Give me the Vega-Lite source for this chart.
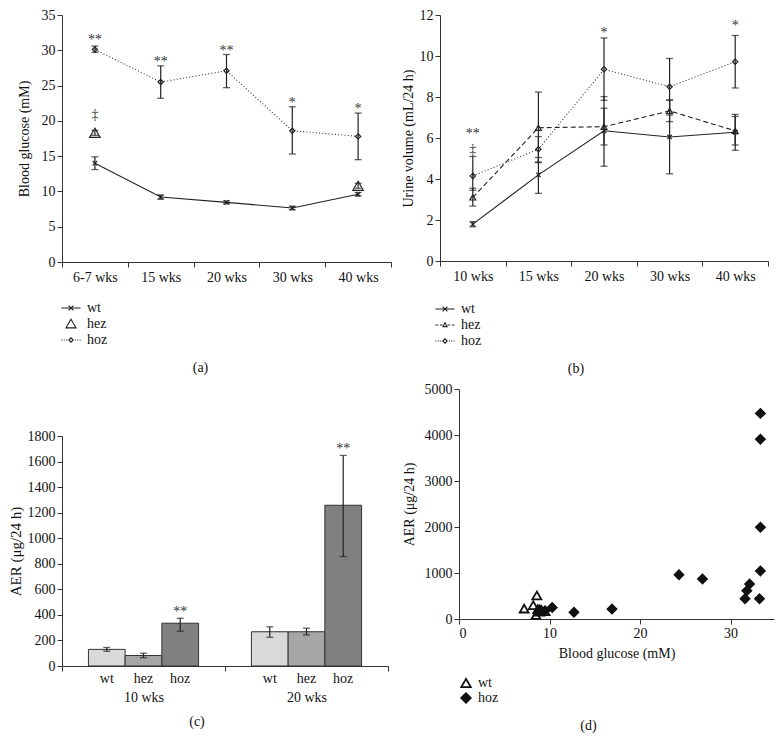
{
  "$schema": "https://vega.github.io/schema/vega-lite/v6.json",
  "padding": {"left": 8, "top": 8, "right": 0, "bottom": 0},
  "background": "white",
  "config": {
    "font": "Liberation Serif",
    "view": {"stroke": null},
    "axis": {"grid": false, "domainColor": "#333", "tickColor": "#333", "labelColor": "#111", "titleColor": "#111", "labelFontSize": 14, "titleFontSize": 14, "titleFontWeight": "normal", "tickSize": 5, "labelFont": "Liberation Serif", "titleFont": "Liberation Serif", "domainWidth": 1, "tickWidth": 1},
    "legend": {"labelFontSize": 14, "labelFont": "Liberation Serif", "labelColor": "#111"},
    "title": {"fontSize": 14, "fontWeight": "normal", "font": "Liberation Serif", "color": "#111"},
    "text": {"font": "Liberation Serif"}
  },
  "resolve": {"scale": {"shape": "independent", "fill": "independent", "stroke": "independent"}, "legend": {"shape": "independent", "fill": "independent", "stroke": "independent"}},
  "datasets": {
    "a": [
      {"wk": "6-7 wks", "geno": "wt", "v": 14.0, "lo": 13.1, "hi": 14.9},
      {"wk": "15 wks", "geno": "wt", "v": 9.2, "lo": 8.9, "hi": 9.5},
      {"wk": "20 wks", "geno": "wt", "v": 8.45, "lo": 8.25, "hi": 8.65},
      {"wk": "30 wks", "geno": "wt", "v": 7.65, "lo": 7.4, "hi": 7.9},
      {"wk": "40 wks", "geno": "wt", "v": 9.6, "lo": 9.35, "hi": 9.85},
      {"wk": "6-7 wks", "geno": "hez", "v": 18.3, "lo": 17.95, "hi": 18.65},
      {"wk": "40 wks", "geno": "hez", "v": 10.8, "lo": 10.45, "hi": 11.15},
      {"wk": "6-7 wks", "geno": "hoz", "v": 30.1, "lo": 29.7, "hi": 30.6},
      {"wk": "15 wks", "geno": "hoz", "v": 25.5, "lo": 23.2, "hi": 27.8},
      {"wk": "20 wks", "geno": "hoz", "v": 27.1, "lo": 24.7, "hi": 29.4},
      {"wk": "30 wks", "geno": "hoz", "v": 18.6, "lo": 15.3, "hi": 22.0},
      {"wk": "40 wks", "geno": "hoz", "v": 17.8, "lo": 14.5, "hi": 21.1}
    ],
    "aAnn": [
      {"wk": "6-7 wks", "y": 31.4, "s": "**"},
      {"wk": "15 wks", "y": 28.4, "s": "**"},
      {"wk": "20 wks", "y": 29.9, "s": "**"},
      {"wk": "30 wks", "y": 22.5, "s": "*"},
      {"wk": "40 wks", "y": 21.7, "s": "*"},
      {"wk": "6-7 wks", "y": 20.9, "s": "‡"}
    ],
    "b": [
      {"wk": "10 wks", "geno": "wt", "v": 1.8, "lo": 1.67, "hi": 1.92},
      {"wk": "15 wks", "geno": "wt", "v": 4.2, "lo": 3.3, "hi": 5.05},
      {"wk": "20 wks", "geno": "wt", "v": 6.35, "lo": 4.62, "hi": 8.02},
      {"wk": "30 wks", "geno": "wt", "v": 6.05, "lo": 4.25, "hi": 7.85},
      {"wk": "40 wks", "geno": "wt", "v": 6.28, "lo": 5.4, "hi": 7.15},
      {"wk": "10 wks", "geno": "hez", "v": 3.1, "lo": 2.68, "hi": 3.55},
      {"wk": "15 wks", "geno": "hez", "v": 6.5, "lo": 4.8, "hi": 8.24},
      {"wk": "20 wks", "geno": "hez", "v": 6.55, "lo": 5.66, "hi": 7.45},
      {"wk": "30 wks", "geno": "hez", "v": 7.32, "lo": 6.8, "hi": 7.85},
      {"wk": "40 wks", "geno": "hez", "v": 6.35, "lo": 5.66, "hi": 7.05},
      {"wk": "10 wks", "geno": "hoz", "v": 4.15, "lo": 3.45, "hi": 5.1},
      {"wk": "15 wks", "geno": "hoz", "v": 5.45, "lo": 4.83, "hi": 6.07},
      {"wk": "20 wks", "geno": "hoz", "v": 9.35, "lo": 7.84, "hi": 10.88},
      {"wk": "30 wks", "geno": "hoz", "v": 8.5, "lo": 7.12, "hi": 9.88},
      {"wk": "40 wks", "geno": "hoz", "v": 9.72, "lo": 8.44, "hi": 11.0}
    ],
    "bAnn": [
      {"wk": "10 wks", "y": 6.2, "s": "**"},
      {"wk": "10 wks", "y": 5.4, "s": "‡"},
      {"wk": "20 wks", "y": 11.1, "s": "*"},
      {"wk": "40 wks", "y": 11.45, "s": "*"}
    ],
    "c": [
      {"grp": "10 wks", "geno": "wt", "v": 130, "lo": 115, "hi": 145},
      {"grp": "10 wks", "geno": "hez", "v": 82, "lo": 65, "hi": 100},
      {"grp": "10 wks", "geno": "hoz", "v": 335, "lo": 272, "hi": 373},
      {"grp": "20 wks", "geno": "wt", "v": 268, "lo": 225, "hi": 307},
      {"grp": "20 wks", "geno": "hez", "v": 268, "lo": 243, "hi": 296},
      {"grp": "20 wks", "geno": "hoz", "v": 1258, "lo": 857, "hi": 1648}
    ],
    "cAnn": [
      {"grp": "10 wks", "geno": "hoz", "y": 425, "s": "**"},
      {"grp": "20 wks", "geno": "hoz", "y": 1695, "s": "**"}
    ],
    "d": [
      {"g": "wt", "bg": 7.2, "aer": 225},
      {"g": "wt", "bg": 8.2, "aer": 300},
      {"g": "wt", "bg": 8.6, "aer": 510},
      {"g": "wt", "bg": 8.5, "aer": 85},
      {"g": "wt", "bg": 8.7, "aer": 215},
      {"g": "wt", "bg": 9.1, "aer": 195},
      {"g": "wt", "bg": 9.5, "aer": 170},
      {"g": "wt", "bg": 8.9, "aer": 160},
      {"g": "hoz", "bg": 8.9, "aer": 200},
      {"g": "hoz", "bg": 9.5, "aer": 180},
      {"g": "hoz", "bg": 10.3, "aer": 250},
      {"g": "hoz", "bg": 12.7, "aer": 145},
      {"g": "hoz", "bg": 16.9, "aer": 215},
      {"g": "hoz", "bg": 24.3, "aer": 960},
      {"g": "hoz", "bg": 26.9, "aer": 870},
      {"g": "hoz", "bg": 31.6, "aer": 440},
      {"g": "hoz", "bg": 31.8, "aer": 615},
      {"g": "hoz", "bg": 32.1, "aer": 760},
      {"g": "hoz", "bg": 33.2, "aer": 440},
      {"g": "hoz", "bg": 33.3, "aer": 1045},
      {"g": "hoz", "bg": 33.3, "aer": 1995},
      {"g": "hoz", "bg": 33.3, "aer": 3910},
      {"g": "hoz", "bg": 33.3, "aer": 4470}
    ]
  },
  "hconcat": [
    {
      "spacing": 54,
      "resolve": {"scale": {"shape": "independent", "fill": "independent", "stroke": "independent"}, "legend": {"shape": "independent", "fill": "independent", "stroke": "independent"}},
      "vconcat": [
        {
          "width": 329, "height": 247,
          "title": {"text": "(a)", "orient": "bottom", "anchor": "middle", "dx": -26, "offset": 14},
          "resolve": {"scale": {"shape": "independent"}, "legend": {"shape": "independent"}},
          "encoding": {
            "x": {"field": "wk", "type": "ordinal", "sort": ["6-7 wks", "15 wks", "20 wks", "30 wks", "40 wks"], "scale": {"type": "band", "paddingInner": 0, "paddingOuter": 0}, "axis": {"title": null, "labelAngle": 0, "tickBand": "extent", "labelPadding": 3}, "bandPosition": 0.5},
            "y": {"field": "v", "type": "quantitative", "scale": {"domain": [0, 35], "nice": false}, "axis": {"title": "Blood glucose (mM)", "values": [0, 5, 10, 15, 20, 25, 30, 35], "titlePadding": 10}}
          },
          "layer": [
            {
              "data": {"name": "a"},
              "transform": [{"filter": "datum.geno === 'wt'"}],
              "mark": {"type": "line", "strokeWidth": 1.1, "color": "#222"},
              "encoding": {"order": {"value": null}}
            },
            {
              "data": {"name": "a"},
              "transform": [{"filter": "datum.geno === 'hoz'"}],
              "mark": {"type": "line", "strokeWidth": 1.1, "color": "#333", "strokeDash": [1, 2.2]},
              "encoding": {"order": {"value": null}}
            },
            {
              "data": {"name": "a"},
              "mark": {"type": "rule", "color": "#222", "strokeWidth": 1.2},
              "encoding": {"y": {"field": "lo", "type": "quantitative", "axis": {"title": "Blood glucose (mM)", "values": [0, 5, 10, 15, 20, 25, 30, 35], "titlePadding": 10}}, "y2": {"field": "hi"}}
            },
            {
              "data": {"name": "a"},
              "mark": {"type": "tick", "orient": "horizontal", "size": 7, "thickness": 1.3, "color": "#222"},
              "encoding": {"y": {"field": "lo", "type": "quantitative", "axis": {"title": "Blood glucose (mM)", "values": [0, 5, 10, 15, 20, 25, 30, 35], "titlePadding": 10}}}
            },
            {
              "data": {"name": "a"},
              "mark": {"type": "tick", "orient": "horizontal", "size": 7, "thickness": 1.3, "color": "#222"},
              "encoding": {"y": {"field": "hi", "type": "quantitative", "axis": {"title": "Blood glucose (mM)", "values": [0, 5, 10, 15, 20, 25, 30, 35], "titlePadding": 10}}}
            },
            {
              "data": {"name": "a"},
              "mark": {"type": "point", "filled": false, "strokeWidth": 1.2, "color": "#222", "opacity": 1, "size": 110},
              "encoding": {
                "shape": {"field": "geno", "type": "nominal", "scale": {"domain": ["wt", "hez", "hoz"], "range": ["M-0.42,-0.42L0.42,0.42M-0.42,0.42L0.42,-0.42", "triangle-up", "M0,-0.5L0.5,0L0,0.5L-0.5,0Z"]}, "legend": null}
              }
            },
            {
              "data": {"name": "a"},
              "transform": [{"filter": "false"}],
              "mark": {"type": "point", "filled": false, "strokeWidth": 1.1, "color": "#222", "opacity": 1},
              "encoding": {
                "shape": {"field": "geno", "type": "nominal", "scale": {"domain": ["wt", "hez", "hoz"], "range": ["M-1.2,0H1.2M-0.3,-0.3L0.3,0.3M-0.3,0.3L0.3,-0.3", "M0,-0.6L0.62,0.48L-0.62,0.48Z", "M-1.2,0H-1.07M-0.9,0H-0.77M-0.6,0H-0.47M-0.27,0L0,-0.27L0.27,0L0,0.27ZM0.47,0H0.6M0.77,0H0.9M1.07,0H1.2"]},
                  "legend": {"orient": "bottom", "direction": "vertical", "title": null, "offset": 15, "labelOffset": 7, "rowPadding": -1, "symbolSize": 256, "symbolStrokeColor": "#222", "symbolFillColor": "transparent", "symbolStrokeWidth": 1.1, "symbolOpacity": 1}}
              }
            },
            {
              "data": {"name": "aAnn"},
              "mark": {"type": "text", "fontSize": 14, "color": "#333", "fill": "#333", "baseline": "middle"},
              "encoding": {"y": {"field": "y", "type": "quantitative", "axis": {"title": "Blood glucose (mM)", "values": [0, 5, 10, 15, 20, 25, 30, 35], "titlePadding": 10}}, "text": {"field": "s"}}
            }
          ]
        },
        {
          "width": 326, "height": 230,
          "title": {"text": "(c)", "orient": "bottom", "anchor": "middle", "dx": -28, "offset": 11},
          "encoding": {
            "x": {"field": "grp", "type": "nominal", "sort": ["10 wks", "20 wks"], "scale": {"type": "band", "paddingInner": 0, "paddingOuter": 0}, "axis": {"title": null, "labelAngle": 0, "tickBand": "extent", "labelPadding": 19}},
            "xOffset": {"field": "geno", "type": "nominal", "sort": ["wt", "hez", "hoz"], "scale": {"paddingInner": 0, "paddingOuter": 0.72}},
            "y": {"field": "v", "type": "quantitative", "scale": {"domain": [0, 1800], "nice": false}, "axis": {"title": "AER (μg/24 h)", "titleFontSize": 15, "values": [0, 200, 400, 600, 800, 1000, 1200, 1400, 1600, 1800], "format": "d", "titlePadding": 4}}
          },
          "layer": [
            {
              "data": {"name": "c"},
              "mark": {"type": "bar", "stroke": "#333", "strokeWidth": 1},
              "encoding": {
                "fill": {"field": "geno", "type": "nominal", "scale": {"domain": ["wt", "hez", "hoz"], "range": ["#d9d9d9", "#a6a6a6", "#808080"]}, "legend": null}
              }
            },
            {
              "data": {"name": "c"},
              "mark": {"type": "rule", "color": "#222", "strokeWidth": 1.2},
              "encoding": {"y": {"field": "lo", "type": "quantitative", "axis": {"title": "AER (μg/24 h)", "titleFontSize": 15, "values": [0, 200, 400, 600, 800, 1000, 1200, 1400, 1600, 1800], "format": "d", "titlePadding": 4}}, "y2": {"field": "hi"}}
            },
            {
              "data": {"name": "c"},
              "mark": {"type": "tick", "orient": "horizontal", "size": 7, "thickness": 1.3, "color": "#222"},
              "encoding": {"y": {"field": "lo", "type": "quantitative", "axis": {"title": "AER (μg/24 h)", "titleFontSize": 15, "values": [0, 200, 400, 600, 800, 1000, 1200, 1400, 1600, 1800], "format": "d", "titlePadding": 4}}}
            },
            {
              "data": {"name": "c"},
              "mark": {"type": "tick", "orient": "horizontal", "size": 7, "thickness": 1.3, "color": "#222"},
              "encoding": {"y": {"field": "hi", "type": "quantitative", "axis": {"title": "AER (μg/24 h)", "titleFontSize": 15, "values": [0, 200, 400, 600, 800, 1000, 1200, 1400, 1600, 1800], "format": "d", "titlePadding": 4}}}
            },
            {
              "data": {"name": "cAnn"},
              "mark": {"type": "text", "fontSize": 14, "color": "#333", "fill": "#333", "baseline": "middle"},
              "encoding": {"y": {"field": "y", "type": "quantitative", "axis": {"title": "AER (μg/24 h)", "titleFontSize": 15, "values": [0, 200, 400, 600, 800, 1000, 1200, 1400, 1600, 1800], "format": "d", "titlePadding": 4}}, "text": {"field": "s"}}
            },
            {
              "data": {"name": "c"},
              "mark": {"type": "text", "fontSize": 14, "color": "#111", "fill": "#111", "baseline": "top", "dy": 6},
              "encoding": {"y": {"datum": 0}, "text": {"field": "geno"}}
            }
          ]
        }
      ]
    },
    {
      "spacing": 6,
      "resolve": {"scale": {"shape": "independent", "fill": "independent", "stroke": "independent"}, "legend": {"shape": "independent", "fill": "independent", "stroke": "independent"}},
      "vconcat": [
        {
          "width": 328, "height": 246,
          "title": {"text": "(b)", "orient": "bottom", "anchor": "middle", "dx": -47, "offset": 14},
          "resolve": {"scale": {"shape": "independent"}, "legend": {"shape": "independent"}},
          "encoding": {
            "x": {"field": "wk", "type": "ordinal", "sort": ["10 wks", "15 wks", "20 wks", "30 wks", "40 wks"], "scale": {"type": "band", "paddingInner": 0, "paddingOuter": 0, "range": [-19, 309]}, "axis": {"title": null, "labelAngle": 0, "tickBand": "extent", "labelPadding": 3}, "bandPosition": 0.5},
            "y": {"field": "v", "type": "quantitative", "scale": {"domain": [0, 12], "nice": false}, "axis": {"title": "Urine volume (mL/24 h)", "values": [0, 2, 4, 6, 8, 10, 12], "titlePadding": 4, "offset": 19}}
          },
          "layer": [
            {
              "data": {"name": "b"},
              "transform": [{"filter": "datum.geno === 'wt'"}],
              "mark": {"type": "line", "strokeWidth": 1.1, "color": "#222"},
              "encoding": {"order": {"value": null}}
            },
            {
              "data": {"name": "b"},
              "transform": [{"filter": "datum.geno === 'hez'"}],
              "mark": {"type": "line", "strokeWidth": 1.1, "color": "#222", "strokeDash": [5, 3]},
              "encoding": {"order": {"value": null}}
            },
            {
              "data": {"name": "b"},
              "transform": [{"filter": "datum.geno === 'hoz'"}],
              "mark": {"type": "line", "strokeWidth": 1.1, "color": "#333", "strokeDash": [1, 2.2]},
              "encoding": {"order": {"value": null}}
            },
            {
              "data": {"name": "b"},
              "mark": {"type": "rule", "color": "#222", "strokeWidth": 1.2},
              "encoding": {"y": {"field": "lo", "type": "quantitative", "axis": {"title": "Urine volume (mL/24 h)", "values": [0, 2, 4, 6, 8, 10, 12], "titlePadding": 4, "offset": 19}}, "y2": {"field": "hi"}}
            },
            {
              "data": {"name": "b"},
              "mark": {"type": "tick", "orient": "horizontal", "size": 7, "thickness": 1.3, "color": "#222"},
              "encoding": {"y": {"field": "lo", "type": "quantitative", "axis": {"title": "Urine volume (mL/24 h)", "values": [0, 2, 4, 6, 8, 10, 12], "titlePadding": 4, "offset": 19}}}
            },
            {
              "data": {"name": "b"},
              "mark": {"type": "tick", "orient": "horizontal", "size": 7, "thickness": 1.3, "color": "#222"},
              "encoding": {"y": {"field": "hi", "type": "quantitative", "axis": {"title": "Urine volume (mL/24 h)", "values": [0, 2, 4, 6, 8, 10, 12], "titlePadding": 4, "offset": 19}}}
            },
            {
              "data": {"name": "b"},
              "mark": {"type": "point", "filled": false, "strokeWidth": 1.2, "color": "#222", "opacity": 1, "size": 35},
              "encoding": {
                "shape": {"field": "geno", "type": "nominal", "scale": {"domain": ["wt", "hez", "hoz"], "range": ["M-0.75,-0.75L0.75,0.75M-0.75,0.75L0.75,-0.75", "triangle-up", "M0,-0.9L0.9,0L0,0.9L-0.9,0Z"]}, "legend": null}
              }
            },
            {
              "data": {"name": "b"},
              "transform": [{"filter": "false"}],
              "mark": {"type": "point", "filled": false, "strokeWidth": 1.1, "color": "#222", "opacity": 1},
              "encoding": {
                "shape": {"field": "geno", "type": "nominal", "scale": {"domain": ["wt", "hez", "hoz"], "range": ["M-1.2,0H1.2M-0.3,-0.3L0.3,0.3M-0.3,0.3L0.3,-0.3", "M-1.2,0H-0.85M-0.65,0H-0.33M0,-0.28L0.26,0.2L-0.26,0.2ZM0.33,0H0.65M0.85,0H1.2", "M-1.2,0H-1.07M-0.9,0H-0.77M-0.6,0H-0.47M-0.27,0L0,-0.27L0.27,0L0,0.27ZM0.47,0H0.6M0.77,0H0.9M1.07,0H1.2"]},
                  "legend": {"orient": "none", "legendX": -23, "legendY": 285, "direction": "vertical", "title": null, "labelOffset": 7, "rowPadding": -1, "symbolSize": 256, "symbolStrokeColor": "#222", "symbolFillColor": "transparent", "symbolStrokeWidth": 1.1, "symbolOpacity": 1}}
              }
            },
            {
              "data": {"name": "bAnn"},
              "mark": {"type": "text", "fontSize": 14, "color": "#333", "fill": "#333", "baseline": "middle"},
              "encoding": {"y": {"field": "y", "type": "quantitative", "axis": {"title": "Urine volume (mL/24 h)", "values": [0, 2, 4, 6, 8, 10, 12], "titlePadding": 4, "offset": 19}}, "text": {"field": "s"}}
            }
          ]
        },
        {
          "width": 315, "height": 230,
          "title": {"text": "(d)", "orient": "bottom", "anchor": "middle", "dx": -28, "offset": 12},
          "data": {"name": "d"},
          "mark": {"type": "point", "filled": true, "strokeWidth": 1.8, "opacity": 1, "size": 80},
          "encoding": {
            "x": {"field": "bg", "type": "quantitative", "scale": {"domain": [0, 34.8], "nice": false}, "axis": {"title": "Blood glucose (mM)", "values": [0, 10, 20, 30], "titlePadding": 6}},
            "y": {"field": "aer", "type": "quantitative", "scale": {"domain": [0, 5000], "nice": false}, "axis": {"title": "AER (μg/24 h)", "values": [0, 1000, 2000, 3000, 4000, 5000], "format": "d", "titlePadding": 8}},
            "shape": {"field": "g", "type": "nominal", "scale": {"domain": ["wt", "hoz"], "range": ["triangle-up", "diamond"]}, "legend": {"orient": "bottom", "direction": "vertical", "title": null, "offset": 16, "labelOffset": 5, "rowPadding": -2, "symbolSize": 90, "symbolStrokeWidth": 1.8}},
            "fill": {"field": "g", "type": "nominal", "scale": {"domain": ["wt", "hoz"], "range": ["transparent", "#111"]}, "legend": {"orient": "bottom", "direction": "vertical", "title": null, "offset": 16, "labelOffset": 5, "rowPadding": -2, "symbolSize": 90, "symbolStrokeWidth": 1.8}},
            "stroke": {"field": "g", "type": "nominal", "scale": {"domain": ["wt", "hoz"], "range": ["#111", "#111"]}, "legend": {"orient": "bottom", "direction": "vertical", "title": null, "offset": 16, "labelOffset": 5, "rowPadding": -2, "symbolSize": 90, "symbolStrokeWidth": 1.8}}
          }
        }
      ]
    }
  ],
  "spacing": 9
}
